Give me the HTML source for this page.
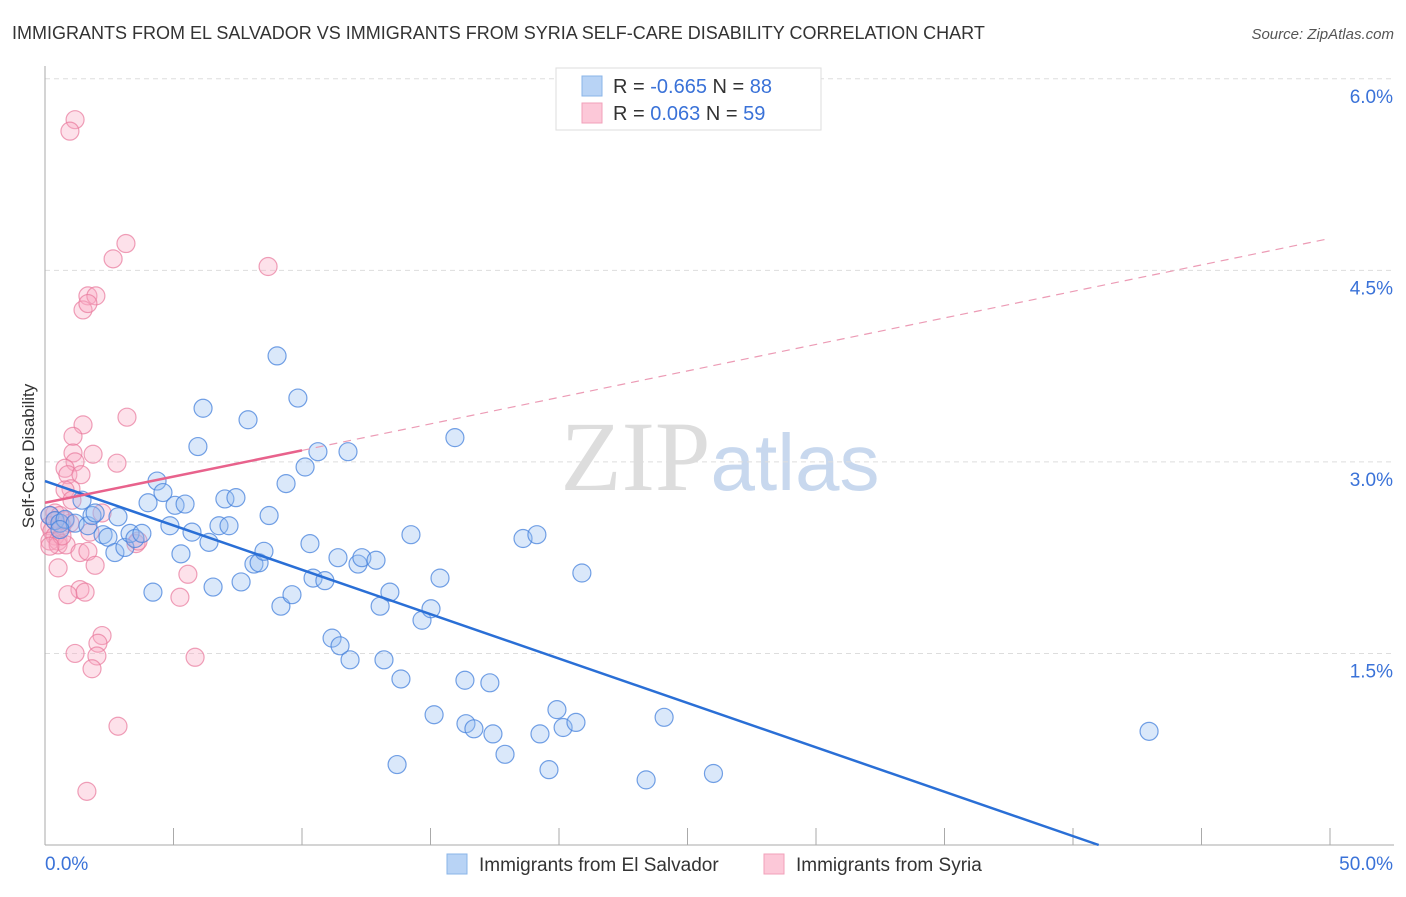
<!DOCTYPE html>
<html><head><meta charset="utf-8"><style>
body{margin:0;background:#fff;font-family:"Liberation Sans",sans-serif;}
</style></head><body>
<svg id="chart" width="1406" height="892" xmlns="http://www.w3.org/2000/svg" font-family="Liberation Sans, sans-serif">
<text x="12" y="39" font-size="18" fill="#333">IMMIGRANTS FROM EL SALVADOR VS IMMIGRANTS FROM SYRIA SELF-CARE DISABILITY CORRELATION CHART</text>
<text x="1394" y="39" font-size="15" fill="#555" font-style="italic" text-anchor="end">Source: ZipAtlas.com</text>
<text x="720" y="490" font-size="100" text-anchor="middle"><tspan fill="#ddd" font-family="Liberation Serif, serif">ZIP</tspan><tspan fill="#c8d8ee" font-size="80">atlas</tspan></text>
<text transform="translate(34,456) rotate(-90)" font-size="17" fill="#333" text-anchor="middle">Self-Care Disability</text>
<g id="grid"></g><g id="axes"></g><g id="pts"></g><g id="lines"></g>
<g>
<rect x="556" y="68" width="265" height="62" fill="#fff" stroke="#ddd"/>
<rect x="582" y="76" width="20" height="20" fill="#b8d3f5" stroke="#8ab4e8"/>
<rect x="582" y="103" width="20" height="20" fill="#fcc8d8" stroke="#f2a0ba"/>
<text x="613" y="93" font-size="20" fill="#333">R = <tspan fill="#3a72d8">-0.665</tspan>   N = <tspan fill="#3a72d8">88</tspan></text>
<text x="613" y="120" font-size="20" fill="#333">R =   <tspan fill="#3a72d8">0.063</tspan>   N = <tspan fill="#3a72d8">59</tspan></text>
</g>
<g>
<rect x="447" y="854" width="20" height="20" fill="#b8d3f5" stroke="#8ab4e8"/>
<text x="479" y="871" font-size="19" fill="#333">Immigrants from El Salvador</text>
<rect x="764" y="854" width="20" height="20" fill="#fcc8d8" stroke="#f2a0ba"/>
<text x="796" y="871" font-size="19" fill="#333">Immigrants from Syria</text>
</g>
</svg>
<script>
const xTicks=[0,5,10,15,20,25,30,35,40,45,50];
const yTicks=[1.5,3.0,4.5,6.0];
const yTickLabels=["1.5%","3.0%","4.5%","6.0%"];
const xTickLabels=["0.0%","50.0%"];
const elSalvadorX=[0.19,0.39,0.58,0.78,1.17,1.44,1.67,1.83,1.95,2.26,2.45,2.72,2.84,3.11,3.31,3.5,3.77,4.01,4.2,4.36,4.59,4.86,5.06,5.29,5.45,5.72,5.95,6.15,6.38,6.54,6.77,7.0,7.16,7.43,7.63,7.9,8.13,8.33,8.52,8.72,9.03,9.18,9.38,9.61,9.84,10.12,10.31,10.43,10.62,10.89,11.17,11.48,11.79,11.87,11.4,12.18,12.33,12.88,13.04,13.19,13.42,13.7,13.85,14.24,14.67,15.02,15.37,15.14,15.95,16.34,16.38,16.69,17.31,17.43,17.9,18.6,19.14,19.26,19.61,19.92,20.16,20.66,20.89,23.39,24.09,26.01,42.96,0.58];
const elSalvadorY=[2.58,2.54,2.52,2.55,2.52,2.7,2.5,2.58,2.6,2.43,2.41,2.29,2.57,2.33,2.44,2.4,2.44,2.68,1.98,2.85,2.76,2.5,2.66,2.28,2.67,2.45,3.12,3.42,2.37,2.02,2.5,2.71,2.5,2.72,2.06,3.33,2.2,2.21,2.3,2.58,3.83,1.87,2.83,1.96,3.5,2.96,2.36,2.09,3.08,2.07,1.62,1.56,3.08,1.45,2.25,2.2,2.25,2.23,1.87,1.45,1.98,0.63,1.3,2.43,1.76,1.85,2.09,1.02,3.19,1.29,0.95,0.91,1.27,0.87,0.71,2.4,2.43,0.87,0.59,1.06,0.92,0.96,2.13,0.51,1.0,0.56,0.89,2.47];
const syriaX=[1.17,0.97,3.15,2.65,8.68,1.67,1.98,1.48,1.67,3.19,1.48,1.09,1.87,1.09,1.17,2.8,0.78,0.89,1.4,1.01,0.78,2.22,0.39,0.19,0.19,0.27,0.39,0.19,0.51,0.66,0.78,0.97,0.51,0.82,1.75,1.36,1.67,3.54,1.95,0.51,5.56,1.36,1.56,0.89,5.25,2.22,2.06,1.17,2.02,5.84,1.83,2.84,1.63,0.58,0.39,0.66,1.05,3.62,0.19];
const syriaY=[5.68,5.59,4.71,4.59,4.53,4.3,4.3,4.19,4.24,3.35,3.29,3.2,3.06,3.07,3.0,2.99,2.95,2.9,2.9,2.79,2.78,2.6,2.6,2.58,2.5,2.46,2.42,2.38,2.38,2.5,2.54,2.52,2.35,2.35,2.45,2.29,2.3,2.36,2.19,2.17,2.12,2.0,1.98,1.96,1.94,1.64,1.58,1.5,1.48,1.47,1.38,0.93,0.42,2.58,2.54,2.42,2.7,2.38,2.34];
const blueLine=[[0,2.85],[41,0]];
const pinkLine=[[0,2.68],[10,3.09]];
const pinkDash=[[10,3.09],[50,4.75]];
const NS="http://www.w3.org/2000/svg";
const X=v=>45+v*25.7, Y=v=>845-v*127.7;
function mk(tag,parent,attrs){const e=document.createElementNS(NS,tag);for(const k in attrs)e.setAttribute(k,attrs[k]);document.getElementById(parent).appendChild(e);return e;}
yTicks.forEach((t,i)=>{
 const g=mk('line','grid',{x1:45,x2:1394,y1:Y(t),y2:Y(t),stroke:'#ddd','stroke-dasharray':'5,4'});
 
 
 const l=mk('text','axes',{x:1393,y:Y(t)+24,'font-size':19,fill:'#3a72d8','text-anchor':'end'});
 l.textContent=yTickLabels[i];
 
 
});
const ax=mk('line','axes',{x1:45,x2:1394,y1:845,y2:845,stroke:'#aaa'});


const ay=mk('line','axes',{x1:45,x2:45,y1:66,y2:845,stroke:'#aaa'});


xTicks.forEach(t=>{
 const k=mk('line','axes',{x1:X(t),x2:X(t),y1:828,y2:845,stroke:'#aaa'});
 
 
});
const xl0=mk('text','axes',{x:45,y:870,'font-size':19,fill:'#3a72d8'});xl0.textContent=xTickLabels[0];


const xl1=mk('text','axes',{x:1393,y:870,'font-size':19,fill:'#3a72d8','text-anchor':'end'});xl1.textContent=xTickLabels[1];


syriaX.forEach((v,i)=>{
 const c=mk('circle','pts',{cx:X(v),cy:Y(syriaY[i]),r:9,fill:'rgba(248,170,195,0.35)',stroke:'rgba(232,120,155,0.7)','stroke-width':1.2});
 
 
});
elSalvadorX.forEach((v,i)=>{
 const c=mk('circle','pts',{cx:X(v),cy:Y(elSalvadorY[i]),r:9,fill:'rgba(150,190,240,0.35)',stroke:'rgba(70,130,220,0.75)','stroke-width':1.2});
 
 
});
const bl=mk('line','lines',{x1:X(blueLine[0][0]),y1:Y(blueLine[0][1]),x2:X(blueLine[1][0]),y2:Y(blueLine[1][1]),stroke:'#2a6fd6','stroke-width':2.5});


const pd=mk('line','lines',{x1:X(pinkDash[0][0]),y1:Y(pinkDash[0][1]),x2:X(pinkDash[1][0]),y2:Y(pinkDash[1][1]),stroke:'#ec9bb5','stroke-width':1.2,'stroke-dasharray':'8,6'});


const pl=mk('line','lines',{x1:X(pinkLine[0][0]),y1:Y(pinkLine[0][1]),x2:X(pinkLine[1][0]),y2:Y(pinkLine[1][1]),stroke:'#e8628c','stroke-width':2.5});


</script>
</body></html>
